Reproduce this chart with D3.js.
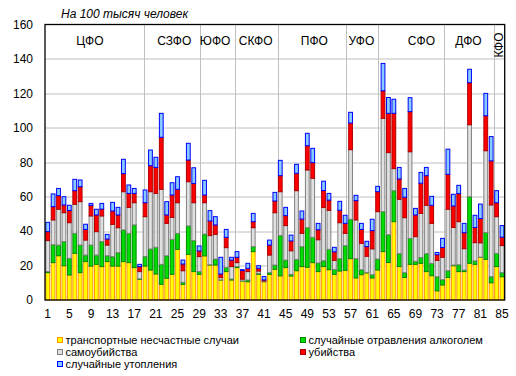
<!DOCTYPE html>
<html>
<head>
<meta charset="utf-8">
<script src="https://cdnjs.cloudflare.com/ajax/libs/d3/7.8.5/d3.min.js"></script>
<style>
  body { margin: 0; background: #ffffff; }
  text { font-family: "Liberation Sans", Arial, sans-serif; fill: #000; }
</style>
</head>
<body>
<div id="canvas"></div>
<script>
// DATA (per 100 thousand people, regions 1..85)
const regions = d3.range(1, 86);

const transport = [
  15.9, 21.7, 25.7, 19.9, 14.5, 27.1, 15.9, 22.3, 19.7, 20.7, 19.4, 22.3, 19.7, 19.7, 22.3, 21.7, 18.8, 12.0,
  19.7, 17.4, 15.1, 9.1, 12.6, 14.9, 29.4, 9.1, 26.5, 16.5, 14.9,
  25.6, 20.3, 20.3, 11.6, 16.5, 11.6,
  18.8, 11.0, 10.6, 28.1, 14.9, 10.6, 14.9,
  17.8, 14.0, 18.8, 13.9, 17.0, 19.4, 19.0, 21.7, 16.5, 19.4, 17.6, 14.9, 16.8, 17.2,
  24.0, 12.8, 14.7, 15.7, 12.8, 17.4,
  28.1, 21.8, 45.5, 19.4, 13.1, 20.7, 20.7, 21.3, 16.5, 14.1, 5.3, 8.7,
  13.1, 19.9, 16.5, 16.5, 21.3, 20.7, 24.8, 23.6, 10.0,
  19.4, 13.5
];
const alcohol = [
  0.6, 10.4, 6.2, 14.0, 9.7, 11.6, 16.0, 3.8, 12.2, 5.4, 14.5, 3.4, 5.5, 7.8, 18.4, 17.0, 24.8, 0.3,
  5.5, 12.2, 15.5, 11.6, 13.1, 20.3, 9.3, 1.2, 16.5, 18.0, 1.6,
  12.7, 0.2, 3.5, 0.1, 2.5, 0.6,
  0.6, 0.1, 1.0, 2.9, 0.6, 0.1, 1.0,
  2.5, 23.4, 4.4, 1.0, 6.6, 11.6, 23.0, 14.7, 5.0, 3.4, 11.8, 2.9, 7.2, 14.4,
  22.9, 11.2, 2.9, 0.3, 1.9, 6.4,
  23.2, 16.1, 18.0, 7.5, 2.8, 15.1, 1.8, 3.4, 10.4, 7.2, 8.2, 3.1,
  3.9, 0.4, 4.0, 0.9, 38.7, 2.0, 0.1, 15.6, 3.5,
  7.7, 2.4
];
const suicide = [
  18.0, 14.4, 20.8, 16.8, 20.7, 16.9, 25.2, 8.7, 16.9, 13.6, 14.9, 6.2, 18.7, 14.5, 22.2, 15.1, 12.9, 4.2,
  23.2, 33.3, 31.3, 43.6, 18.8, 12.8, 17.8, 6.7, 25.7, 22.0, 8.7,
  18.2, 16.9, 14.3, 1.3, 11.4, 7.2,
  2.3, 1.0, 4.9, 11.0, 1.3, 0.4, 10.2,
  30.4, 25.5, 20.0, 13.7, 39.9, 7.7, 33.5, 34.3, 13.5, 30.9, 22.7, 5.2, 20.9, 7.1,
  40.4, 22.5, 15.3, 9.4, 15.0, 27.5,
  54.2, 47.7, 12.8, 31.6, 31.9, 50.3, 14.3, 25.6, 28.1, 23.2, 9.5, 13.0,
  35.7, 21.8, 25.0, 12.4, 41.8, 10.6, 8.3, 47.5, 41.7,
  21.3, 15.7
];
const murder = [
  5.2, 7.7, 7.9, 4.5, 7.1, 7.9, 8.7, 6.2, 6.2, 9.7, 4.0, 3.5, 7.8, 7.4, 10.5, 8.1, 5.4, 2.9,
  8.1, 15.1, 15.1, 30.2, 4.9, 13.0, 7.8, 3.9, 12.6, 11.2, 3.3,
  4.5, 8.5, 5.5, 2.1, 6.0, 3.8,
  3.1, 5.0, 1.9, 3.5, 1.6, 0.6, 5.8,
  6.8, 9.3, 5.8, 5.7, 10.1, 8.3, 14.1, 9.1, 5.8, 9.9, 5.9, 5.0, 7.2, 5.8,
  15.5, 11.2, 8.1, 5.6, 10.6, 11.6,
  16.0, 22.8, 32.1, 11.8, 11.9, 23.3, 12.6, 17.5, 17.2, 10.5, 3.3, 5.7,
  20.3, 12.5, 16.3, 9.3, 24.4, 8.8, 14.1, 20.3, 25.6,
  8.1, 4.9
];
const drowning = [
  5.4, 7.4, 4.2, 4.8, 3.0, 6.6, 3.9, 3.0, 1.1, 3.3, 3.3, 2.7, 5.0, 4.4, 8.3, 4.9, 2.9, 1.3,
  7.4, 9.1, 5.9, 13.9, 7.7, 7.1, 7.3, 2.3, 9.7, 9.1, 2.9,
  8.5, 6.0, 4.8, 9.7, 4.6, 1.6,
  3.3, 0.5, 2.9, 4.8, 1.5, 1.9, 2.9,
  5.0, 8.9, 4.8, 3.4, 5.2, 4.7, 7.2, 8.3, 3.7, 5.4, 3.9, 2.6, 5.2, 4.7,
  6.2, 3.1, 3.5, 3.1, 6.6, 3.1,
  15.9, 9.2, 8.2, 6.7, 5.1, 8.1, 3.8, 6.3, 4.8, 5.2, 1.3, 5.3,
  14.6, 6.8, 4.8, 5.4, 7.8, 7.1, 8.4, 13.0, 14.1,
  7.0, 6.7
];

const seriesKeys = ["transport", "alcohol", "suicide", "murder", "drowning"];
const seriesNames = [
  "транспортные несчастные случаи",
  "случайные отравления алкоголем",
  "самоубийства",
  "убийства",
  "случайные утопления"
];
const seriesFill = ["#FFFF00", "#00DD00", "#E0E0E0", "#FF0000", "#88CCFF"];
const seriesStroke = ["#FF9900", "#008800", "#808080", "#B00000", "#0000FF"];

const xTicks = [1, 5, 9, 13, 17, 21, 25, 29, 33, 37, 41, 45, 49, 53, 57, 61, 65, 69, 73, 77, 81, 85];
const yTicks = [0, 20, 40, 60, 80, 100, 120, 140, 160];

// federal districts: label and its position, separator lines (in bar units)
const districtNames = ["ЦФО", "СЗФО", "ЮФО", "СКФО", "ПФО", "УФО", "СФО", "ДФО"];
const districtLabelPos = [8.3, 23.9, 31.45, 38.95, 49.8, 58.5, 69.6, 78.3];
const districtLines = [18.37, 28.68, 35.21, 43.16, 55.63, 61.66, 73.82, 82.94];

// DIMENSIONS
const width = 516;
const height = 376;
const margin = { top: 24.5, right: 11.3, bottom: 76, left: 45 };
const plot_width = width - margin.left - margin.right;
const plot_height = height - margin.top - margin.bottom;

// CANVAS AND PLOT
const canvas = d3.select("#canvas")
  .append("svg")
  .attr("width", width)
  .attr("height", height);

const plot = canvas.append("g")
  .attr("transform", `translate(${margin.left},${margin.top})`);

// MANIPULATE DATA
const table = regions.map((r, i) => ({
  region: r,
  transport: transport[i],
  alcohol: alcohol[i],
  suicide: suicide[i],
  murder: murder[i],
  drowning: drowning[i]
}));
const stackedData = d3.stack().keys(seriesKeys)(table);

// SCALES
const scaleX = d3.scaleBand(regions, [0, plot_width]).paddingInner(0.3).paddingOuter(0.15);
const scalePos = d3.scaleLinear([0, regions.length], [0, plot_width]);
const scaleY = d3.scaleLinear([0, 160], [plot_height, 0]);
const scaleFill = d3.scaleOrdinal(seriesKeys, seriesFill);
const scaleStroke = d3.scaleOrdinal(seriesKeys, seriesStroke);

// GRIDLINES
plot.append("g")
  .selectAll("line")
  .data(yTicks.slice(1, -1))
  .join("line")
  .attr("x1", 0)
  .attr("x2", plot_width)
  .attr("y1", d => Math.round(scaleY(d)) + 0.5)
  .attr("y2", d => Math.round(scaleY(d)) + 0.5)
  .attr("stroke", "#C0C0C0");

plot.append("g")
  .selectAll("line")
  .data(districtLines)
  .join("line")
  .attr("x1", d => Math.round(scalePos(d)) + 0.5)
  .attr("x2", d => Math.round(scalePos(d)) + 0.5)
  .attr("y1", 0)
  .attr("y2", plot_height)
  .attr("stroke", "#C0C0C0");

// VISUALISATION
plot.append("g")
  .selectAll("g")
  .data(stackedData)
  .join("g")
  .attr("fill", d => scaleFill(d.key))
  .attr("stroke", d => scaleStroke(d.key))
  .attr("stroke-width", 1)
  .selectAll("rect")
  .data(d => d)
  .join("rect")
  .attr("x", d => scaleX(d.data.region))
  .attr("y", d => scaleY(d[1]))
  .attr("width", scaleX.bandwidth())
  .attr("height", d => Math.max(0, scaleY(d[0]) - scaleY(d[1])));

// FRAME
plot.append("rect")
  .attr("x", 0)
  .attr("y", 0)
  .attr("width", plot_width)
  .attr("height", plot_height)
  .attr("fill", "none")
  .attr("stroke", "#000")
  .attr("stroke-width", 1.3);

// AXES LABELS
const yAx = d3.axisLeft(scaleY).tickValues(yTicks).tickSize(0).tickPadding(12);
const yaxis = plot.append("g").call(yAx);
yaxis.select(".domain").remove();
yaxis.selectAll("text")
  .style("font-size", "12px")
  .style("font-family", "'Liberation Sans', Arial, sans-serif");

const xAx = d3.axisBottom(scaleX).tickValues(xTicks).tickSize(0).tickPadding(9);
const xaxis = plot.append("g")
  .attr("transform", `translate(0, ${plot_height})`)
  .call(xAx);
xaxis.select(".domain").remove();
xaxis.selectAll("text")
  .style("font-size", "12px")
  .style("font-family", "'Liberation Sans', Arial, sans-serif");

// TITLE
canvas.append("text")
  .attr("x", 61)
  .attr("y", 18)
  .style("font-size", "12px")
  .style("font-style", "italic")
  .text("На 100 тысяч человек");

// DISTRICTS
plot.append("g")
  .selectAll("text")
  .data(districtNames)
  .join("text")
  .attr("x", (d, i) => scalePos(districtLabelPos[i]))
  .attr("y", 20)
  .attr("text-anchor", "middle")
  .style("font-size", "12px")
  .text(d => d);

plot.append("text")
  .attr("transform", `translate(${scalePos(84.7)}, 20.5) rotate(-90)`)
  .attr("text-anchor", "middle")
  .style("font-size", "12px")
  .text("КФО");

// LEGEND
const legend = canvas.append("g").attr("class", "legend");
const legendX = [57.5, 300.5];

legend.selectAll("rect")
  .data(seriesKeys)
  .join("rect")
  .attr("x", (d, i) => legendX[i % 2])
  .attr("y", (d, i) => 337.5 + Math.floor(i / 2) * 12)
  .attr("width", 5)
  .attr("height", 5)
  .attr("fill", d => scaleFill(d))
  .attr("stroke", d => scaleStroke(d));

legend.selectAll("text")
  .data(seriesNames)
  .join("text")
  .attr("x", (d, i) => legendX[i % 2] + 8)
  .attr("y", (d, i) => 344 + Math.floor(i / 2) * 12)
  .style("font-size", "11px")
  .text(d => d);
</script>
</body>
</html>
